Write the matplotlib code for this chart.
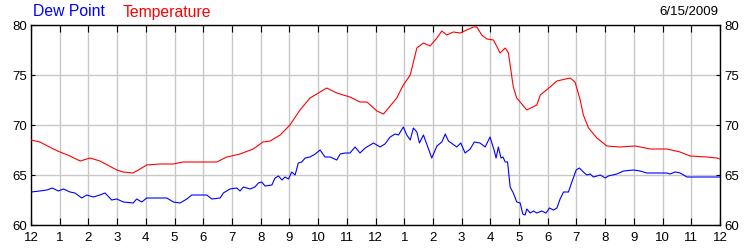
import matplotlib
matplotlib.use("Agg")
import matplotlib.pyplot as plt

plt.rcParams['font.family'] = ['Liberation Sans', 'DejaVu Sans']

# hours after midnight
temp_hours = [0.0, 0.31, 0.78, 1.01, 1.36, 1.71, 2.06, 2.40, 2.99, 3.21, 3.55, 3.80,
              4.03, 4.49, 4.95, 5.30, 5.89, 6.47, 6.82, 7.28, 7.74, 8.08, 8.33, 8.68,
              9.02, 9.37, 9.72, 10.07, 10.30, 10.65, 11.11, 11.46, 11.70, 12.05, 12.28,
              12.51, 12.74, 12.97, 13.21, 13.44, 13.67, 13.90, 14.14, 14.31, 14.48, 14.71,
              14.95, 15.18, 15.41, 15.53, 15.70, 15.88, 16.11, 16.34, 16.52, 16.63, 16.80,
              16.92, 17.27, 17.62, 17.74, 18.08, 18.32, 18.78, 18.95, 19.13, 19.24, 19.42,
              19.71, 20.06, 20.52, 21.05, 21.57, 22.15, 22.61, 22.96, 23.54, 23.89, 24.0]
temperature = [68.5, 68.3, 67.6, 67.3, 66.9, 66.4, 66.7, 66.4, 65.5, 65.3, 65.2, 65.6,
               66.0, 66.1, 66.1, 66.3, 66.3, 66.3, 66.8, 67.1, 67.6, 68.3, 68.4, 69.0,
               70.0, 71.5, 72.7, 73.3, 73.7, 73.2, 72.8, 72.3, 72.3, 71.4, 71.1,
               71.9, 72.7, 74.0, 75.0, 77.7, 78.2, 77.9, 78.7, 79.4, 79.0, 79.3,
               79.2, 79.5, 79.8, 79.8, 79.0, 78.6, 78.5, 77.2, 77.7, 77.2, 73.8,
               72.7, 71.5, 72.0, 73.0, 73.8, 74.4, 74.7, 74.3, 72.5, 71.0, 69.7,
               68.7, 67.9, 67.8, 67.9, 67.6, 67.6, 67.3, 66.9, 66.8, 66.7, 66.6]

dew_hours = [0.0, 0.31, 0.55, 0.74, 0.95, 1.13, 1.36, 1.53, 1.77, 1.94, 2.17, 2.40,
             2.58, 2.81, 2.99, 3.22, 3.56, 3.68, 3.86, 4.03, 4.26, 4.73, 4.96, 5.19,
             5.43, 5.60, 6.12, 6.30, 6.59, 6.70, 6.93, 7.17, 7.28, 7.40, 7.63, 7.80,
             7.92, 8.04, 8.15, 8.39, 8.50, 8.62, 8.74, 8.85, 8.97, 9.08, 9.20, 9.31,
             9.43, 9.55, 9.72, 9.90, 10.07, 10.24, 10.42, 10.65, 10.77, 10.94, 11.11,
             11.29, 11.46, 11.64, 11.93, 12.16, 12.33, 12.51, 12.68, 12.80, 12.97, 13.09,
             13.21, 13.32, 13.44, 13.53, 13.67, 13.96, 14.14, 14.31, 14.43, 14.54, 14.83,
             14.97, 15.12, 15.30, 15.44, 15.64, 15.82, 15.99, 16.13, 16.20, 16.28, 16.37,
             16.44, 16.52, 16.60, 16.69, 16.80, 16.92, 17.04, 17.13, 17.21, 17.27, 17.39,
             17.50, 17.62, 17.79, 17.94, 18.06, 18.20, 18.32, 18.43, 18.55, 18.72, 18.84,
             18.99, 19.10, 19.24, 19.36, 19.48, 19.59, 19.83, 20.00, 20.11, 20.41, 20.64,
             20.99, 21.22, 21.45, 22.15, 22.26, 22.44, 22.61, 22.85, 23.02, 24.0]
dew_point = [63.3, 63.4, 63.5, 63.7, 63.4, 63.6, 63.3, 63.2, 62.7, 63.0, 62.8, 63.0,
             63.2, 62.5, 62.6, 62.3, 62.2, 62.6, 62.3, 62.7, 62.7, 62.7, 62.3, 62.2,
             62.6, 63.0, 63.0, 62.6, 62.7, 63.2, 63.6, 63.7, 63.4, 63.8, 63.6, 63.8,
             64.2, 64.3, 63.9, 64.0, 64.7, 64.9, 64.5, 64.8, 64.6, 65.3, 65.0, 66.2,
             66.3, 66.7, 66.8, 67.1, 67.5, 66.8, 66.8, 66.5, 67.1, 67.2, 67.2,
             67.8, 67.2, 67.7, 68.2, 67.8, 68.1, 68.8, 69.1, 69.0, 69.8, 69.0,
             68.5, 69.7, 69.3, 68.2, 69.0, 66.7, 67.9, 68.3, 69.1, 68.4, 67.8,
             68.2, 67.2, 67.6, 68.3, 68.2, 67.8, 68.8, 67.5, 66.7, 67.8, 66.7,
             66.8, 66.3, 66.3, 63.8, 63.2, 62.3, 62.2, 61.1, 61.0, 61.6, 61.2,
             61.4, 61.2, 61.4, 61.2, 61.7, 61.5, 61.7, 62.6, 63.3, 63.3, 64.3,
             65.5, 65.7, 65.3, 65.0, 65.1, 64.8, 65.0, 64.7, 64.9, 65.1, 65.4,
             65.5, 65.4, 65.2, 65.2, 65.1, 65.3, 65.2, 64.8, 64.8, 64.8]

hour_ticks = list(range(25))
hour_labels = ['12', '1', '2', '3', '4', '5', '6', '7', '8', '9', '10', '11',
               '12', '1', '2', '3', '4', '5', '6', '7', '8', '9', '10', '11', '12']
y_ticks = [60, 65, 70, 75, 80]
date_text = '6/15/2009'

fig = plt.figure(figsize=(7.5, 2.5), dpi=100)
ax = fig.add_axes([31 / 750, 25 / 250, 689 / 750, 200 / 250])

ax.plot(temp_hours, temperature, color='#ff0000', lw=0.8, zorder=3)
ax.plot(dew_hours, dew_point, color='#0000ff', lw=0.8, zorder=3)

ax.set_xlim(0, 24)
ax.set_ylim(60, 80)
ax.set_xticks(hour_ticks)
ax.set_xticklabels(hour_labels)
ax.set_yticks(y_ticks)
ax.grid(True, color='#c8c8c8', lw=1)
ax.set_axisbelow(True)

ax.tick_params(axis='x', direction='in', length=5, top=True, labelsize=9.5,
               pad=5, color='black')
ax.tick_params(axis='y', direction='in', length=3, left=True, right=True,
               labelleft=True, labelright=True, labelsize=9.5, pad=3)
for s in ax.spines.values():
    s.set_color('black')
    s.set_linewidth(1)

fig.text(33 / 750, 1 - 12 / 250, 'Dew Point', color='#0000ff', fontsize=11.3,
         va='center', ha='left')
fig.text(123 / 750, 1 - 12 / 250, 'Temperature', color='#ff0000', fontsize=11.3,
         va='center', ha='left')
fig.text(718 / 750, 1 - 12 / 250, date_text, color='black', fontsize=9.5,
         va='center', ha='right')

fig.savefig('out.png', dpi=100)
